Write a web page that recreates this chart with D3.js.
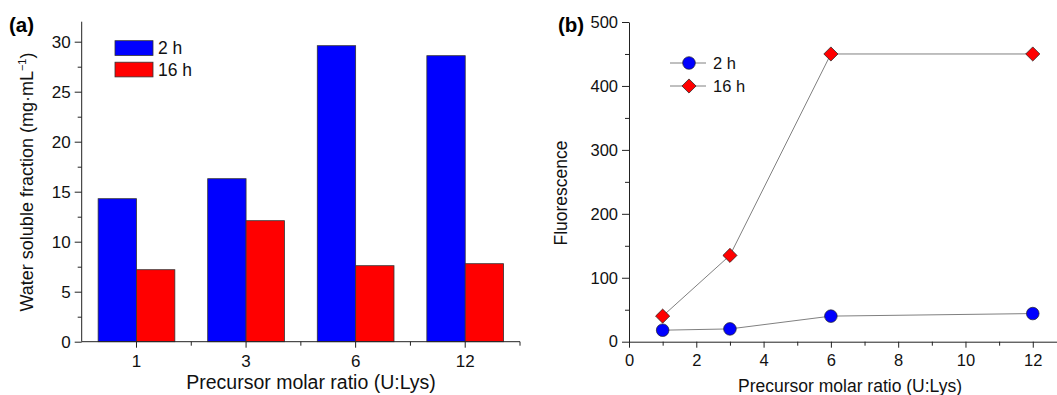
<!DOCTYPE html>
<html>
<head>
<meta charset="utf-8">
<script src="https://cdn.jsdelivr.net/npm/d3@7"></script>
<style>
  body { margin: 0; background: #fff; }
  svg { display: block; font-family: Arial, 'Liberation Sans', sans-serif; }
  .axis path, .axis line { stroke: #222; }
</style>
</head>
<body>
<svg id="chart" width="1057" height="395"></svg>
<script>
// panel (a): water soluble fraction bars
const ratios = ['1', '3', '6', '12']
const seriesNames = ['2 h', '16 h']
const soluble2h = [14.3, 16.3, 29.6, 28.6]
const soluble16h = [7.2, 12.1, 7.6, 7.8]
const barColors = ['#0000ff', '#ff0000']

// panel (b): fluorescence vs ratio
const ratioValues = [1, 3, 6, 12]
const fluor2h = [18, 20, 40, 44]
const fluor16h = [40, 135, 450, 450]

const yTicksA = [0, 5, 10, 15, 20, 25, 30]
const yTicksB = [0, 100, 200, 300, 400, 500]
const xTicksB = [0, 2, 4, 6, 8, 10, 12]

const svg = d3.select('#chart')
const majorLen = 6
const minorLen = 3

// ---------- panel (a) ----------
const xA = d3.scaleBand().domain(ratios).range([81.7, 520]).paddingInner(0.3).paddingOuter(0.15)
const xSub = d3.scaleBand().domain(seriesNames).range([0, xA.bandwidth()])
const yA = d3.scaleLinear().domain([0, 32]).range([341.7, 21.7])

const gA = svg.append('g')
const rowsA = ratios.map((r, i) => ({ r, vals: [soluble2h[i], soluble16h[i]] }))

gA.selectAll('g.grp')
  .data(rowsA)
  .join('g')
  .attr('class', 'grp')
  .attr('transform', (d) => `translate(${xA(d.r)},0)`)
  .selectAll('rect')
  .data((d) => d.vals.map((v, j) => ({ v, s: seriesNames[j], c: barColors[j] })))
  .join('rect')
  .attr('x', (d) => xSub(d.s))
  .attr('width', xSub.bandwidth())
  .attr('y', (d) => yA(d.v))
  .attr('height', (d) => yA(0) - yA(d.v))
  .attr('fill', (d) => d.c)
  .attr('stroke', '#333')
  .attr('stroke-width', 0.8)

// y axis (a)
const yAxisA = gA.append('g').attr('class', 'axis').attr('transform', 'translate(81.7,0)')
  .call(d3.axisLeft(yA).tickValues(yTicksA).tickSize(majorLen + 1).tickSizeOuter(0).tickPadding(4))
yAxisA.select('.domain').attr('d', `M0,${yA(32)}V${yA(0)}`)
gA.append('g').attr('class', 'axis').attr('transform', 'translate(81.7,0)')
  .call(d3.axisLeft(yA).tickValues(d3.range(2.5, 32, 5)).tickSize(minorLen + 1).tickFormat(''))
  .select('.domain').remove()

// x axis (a)
const xAxisA = gA.append('g').attr('class', 'axis').attr('transform', `translate(0,${yA(0)})`)
  .call(d3.axisBottom(xA).tickSize(majorLen).tickSizeOuter(0).tickPadding(7))
xAxisA.select('.domain').attr('d', `M${xA.range()[0]},0H${xA.range()[1]}`)
const bounds = ratios.map((r) => xA(r) + xA.bandwidth() + (xA.step() * xA.paddingInner()) / 2)
xAxisA.selectAll('line.minor')
  .data(bounds)
  .join('line')
  .attr('class', 'minor')
  .attr('x1', (d) => d).attr('x2', (d) => d)
  .attr('y1', 0).attr('y2', minorLen + 1)
  .attr('stroke', '#222')

gA.selectAll('.axis text').attr('font-size', 17).attr('fill', '#111')
  .attr('font-family', "Arial, 'Liberation Sans', sans-serif")

// labels (a)
svg.append('text').attr('x', 311).attr('y', 389)
  .attr('text-anchor', 'middle').attr('font-size', 19.5).attr('fill', '#111')
  .text('Precursor molar ratio (U:Lys)')
const yLabA = svg.append('text')
  .attr('transform', 'translate(32.5,182) rotate(-90)')
  .attr('text-anchor', 'middle').attr('font-size', 18).attr('fill', '#111')
yLabA.append('tspan').text('Water soluble fraction (mg\u00b7mL')
yLabA.append('tspan').attr('font-size', 11).attr('dy', -7).text('\u22121')
yLabA.append('tspan').attr('dy', 7).text(')')
svg.append('text').attr('x', 9).attr('y', 32).attr('font-size', 20.5).attr('font-weight', 'bold')
  .text('(a)')

// legend (a)
const legA = svg.append('g')
seriesNames.forEach((s, i) => {
  const y0 = 40.7 + i * 21.5
  legA.append('rect').attr('x', 115).attr('y', y0).attr('width', 38).attr('height', 14.7)
    .attr('fill', barColors[i]).attr('stroke', '#333').attr('stroke-width', 0.8)
  legA.append('text').attr('x', 158).attr('y', y0 + 13.5).attr('font-size', 17.5).attr('fill', '#111').text(s)
})

// ---------- panel (b) ----------
const xB = d3.scaleLinear().domain([0, 12.72]).range([629, 1057])
const yB = d3.scaleLinear().domain([0, 500]).range([341.7, 22])
const gB = svg.append('g')

gB.append('g').attr('class', 'axis').attr('transform', 'translate(629,0)')
  .call(d3.axisLeft(yB).tickValues(yTicksB).tickSize(majorLen + 1).tickSizeOuter(0).tickPadding(4))
gB.append('g').attr('class', 'axis').attr('transform', 'translate(629,0)')
  .call(d3.axisLeft(yB).tickValues(d3.range(50, 500, 100)).tickSize(minorLen + 1).tickFormat(''))
  .select('.domain').remove()

gB.append('g').attr('class', 'axis').attr('transform', `translate(0,${yB(0)})`)
  .call(d3.axisBottom(xB).tickValues(xTicksB).tickSize(majorLen).tickSizeOuter(0).tickPadding(7))
gB.append('g').attr('class', 'axis').attr('transform', `translate(0,${yB(0)})`)
  .call(d3.axisBottom(xB).tickValues(d3.range(1, 12, 2)).tickSize(minorLen + 1).tickFormat(''))
  .select('.domain').remove()

gB.selectAll('.axis text').attr('font-size', 16.5).attr('fill', '#111')
  .attr('font-family', "Arial, 'Liberation Sans', sans-serif")

const line = d3.line().x((d) => xB(d[0])).y((d) => yB(d[1]))
const seriesB = [
  { name: '2 h', vals: fluor2h, color: '#0000ff', shape: 'circle' },
  { name: '16 h', vals: fluor16h, color: '#ff0000', shape: 'diamond' },
]
const circleSym = d3.symbol().type(d3.symbolCircle).size(Math.PI * 6.3 * 6.3)
const diamondSym = d3.symbol().type(d3.symbolSquare).size(100)

function drawMarker(g, s, x, y) {
  const p = g.append('path')
    .attr('fill', s.color).attr('stroke', '#222').attr('stroke-width', 0.7)
  if (s.shape === 'circle') p.attr('d', circleSym()).attr('transform', `translate(${x},${y})`)
  else p.attr('d', diamondSym()).attr('transform', `translate(${x},${y}) rotate(45)`)
}

seriesB.forEach((s) => {
  const pts = ratioValues.map((r, i) => [r, s.vals[i]])
  gB.append('path').attr('d', line(pts)).attr('fill', 'none')
    .attr('stroke', '#808080').attr('stroke-width', 1)
  pts.forEach((p) => drawMarker(gB, s, xB(p[0]), yB(p[1])))
})

// legend (b)
seriesB.forEach((s, i) => {
  const y0 = 63 + i * 23
  gB.append('line').attr('x1', 670).attr('x2', 706).attr('y1', y0).attr('y2', y0)
    .attr('stroke', '#808080').attr('stroke-width', 1)
  drawMarker(gB, s, 689, y0)
  gB.append('text').attr('x', 713).attr('y', y0 + 6).attr('font-size', 16.5).attr('fill', '#111').text(s.name)
})

// labels (b)
svg.append('text').attr('x', 850).attr('y', 392)
  .attr('text-anchor', 'middle').attr('font-size', 17.5).attr('fill', '#111')
  .text('Precursor molar ratio (U:Lys)')
svg.append('text').attr('transform', 'translate(567,193) rotate(-90)')
  .attr('text-anchor', 'middle').attr('font-size', 17.5).attr('fill', '#111')
  .text('Fluorescence')
svg.append('text').attr('x', 558).attr('y', 32).attr('font-size', 20.5).attr('font-weight', 'bold')
  .text('(b)')
</script>
</body>
</html>
